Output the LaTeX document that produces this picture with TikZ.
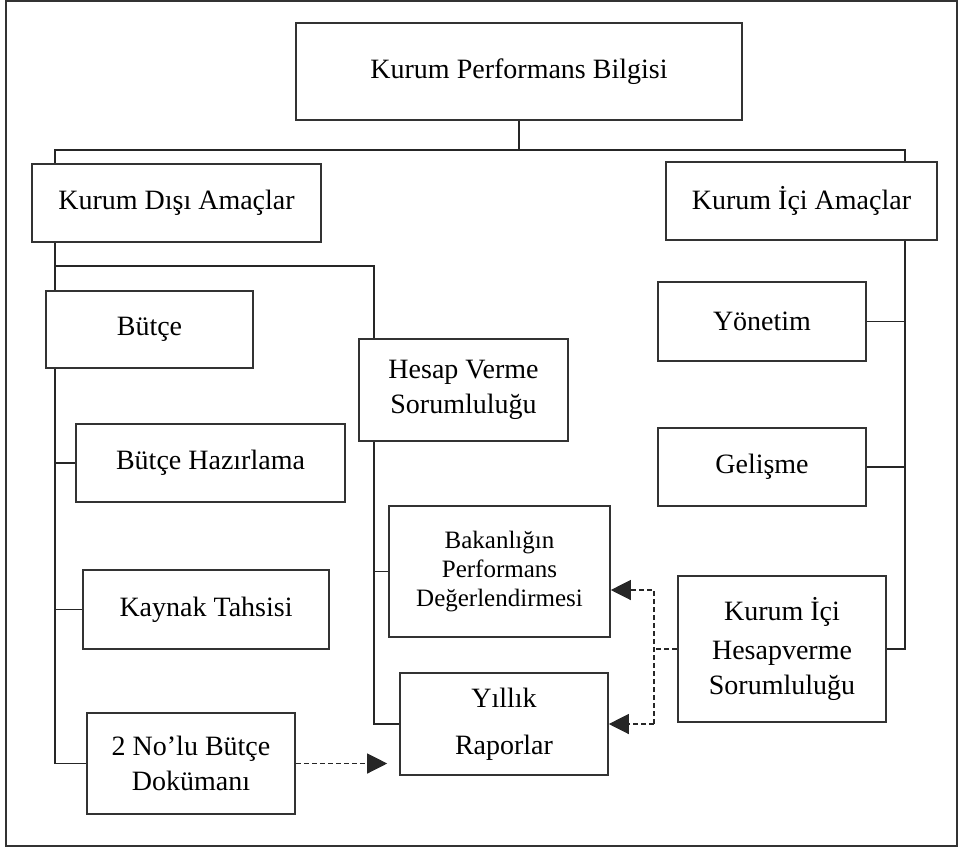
\documentclass[tikz,border=0pt]{standalone}
\usepackage{fontspec}
\setmainfont{Liberation Serif}
\usetikzlibrary{arrows.meta}

\begin{document}
\begin{tikzpicture}[
  x=0.5pt, y=-0.5pt,
  font=\fontsize{14}{17.5}\selectfont,
  box/.style={draw=black!80, fill=white, line width=0.8pt, align=center, inner sep=0pt},
  link/.style={draw=black!85, line width=0.6pt},
  dashline/.style={link, dash pattern=on 2.5pt off 1.5pt},
  dasharrow/.style={dashline, -{Triangle[length=10pt, width=10pt]}}
]
\useasboundingbox (0,0) rectangle (959,848);
\draw[black!80, line width=0.7pt] (6,1) rectangle (957,846);

% top level
\node[box, minimum width=223pt, minimum height=48.5pt] (perf) at (519,71.5) {Kurum Performans Bilgisi};
\node[box, minimum width=144.5pt, minimum height=39pt] (disi) at (176.5,203) {Kurum Dışı Amaçlar};
\node[box, minimum width=135.5pt, minimum height=39pt] (ici) at (801.5,201) {Kurum İçi Amaçlar};

% left column
\node[box, minimum width=103.5pt, minimum height=38.5pt] (butce) at (149.5,329.5) {Bütçe};
\node[box, minimum width=134.5pt, minimum height=39pt] (hazirlama) at (210.5,463) {Bütçe Hazırlama};
\node[box, minimum width=123pt, minimum height=39.5pt] (kaynak) at (206,609.5) {Kaynak Tahsisi};
\node[box, minimum width=104pt, minimum height=50.5pt] (ikino) at (191,763.5) {2 No’lu Bütçe\\Dokümanı};

% middle column
\node[box, minimum width=104.5pt, minimum height=51pt] (hesap) at (463.5,390) {Hesap Verme\\Sorumluluğu};
\node[box, minimum width=110.5pt, minimum height=65.5pt, font=\fontsize{12.5}{14.5}\selectfont] (bakanlik) at (499.5,571.5) {Bakanlığın\\Performans\\Değerlendirmesi};
\node[box, minimum width=104pt, minimum height=51pt] (yillik) at (504,724) {Yıllık\\[6pt]Raporlar};

% right column
\node[box, minimum width=104pt, minimum height=39.5pt] (yonetim) at (762,321.5) {Yönetim};
\node[box, minimum width=104pt, minimum height=39pt] (gelisme) at (762,467) {Gelişme};
\node[box, minimum width=104pt, minimum height=73pt] (icihesap) at (782,649) {Kurum İçi\\[2pt]Hesapverme\\Sorumluluğu};

\coordinate (busL) at (55,150);
\coordinate (busR) at (905,150);
\coordinate (midL) at (55,266);
\coordinate (midR) at (374,266);
\coordinate (split) at (654,590);

% tree lines
\draw[link] (perf.south) -- (perf.south |- busL);
\draw[link] (disi.north -| busL) -- (busL) -- (busR) -- (ici.north -| busR);
\draw[link] (disi.south -| busL) -- (butce.north -| busL);
\draw[link] (butce.south -| busL) |- (ikino.west);
\draw[link] (hazirlama.west) -- (hazirlama.west -| busL);
\draw[link] (kaynak.west) -- (kaynak.west -| busL);
\draw[link] (midL) -- (midR) -- (hesap.north -| midR);
\draw[link] (hesap.south -| midR) |- (yillik.west);
\draw[link] (bakanlik.west) -- (bakanlik.west -| midR);
\draw[link] (ici.south -| busR) |- (icihesap.east);
\draw[link] (yonetim.east) -- (yonetim.east -| busR);
\draw[link] (gelisme.east) -- (gelisme.east -| busR);

% dashed links
\draw[dasharrow, shorten >=6pt] (ikino.east) -- (ikino.east -| yillik.west);
\draw[dashline] (icihesap.west) -- (icihesap.west -| split);
\draw[dasharrow] (yillik.east -| split) -- (split) -- (split -| bakanlik.east);
\draw[dasharrow] (yillik.east -| split) -- (yillik.east);
\end{tikzpicture}
\end{document}
